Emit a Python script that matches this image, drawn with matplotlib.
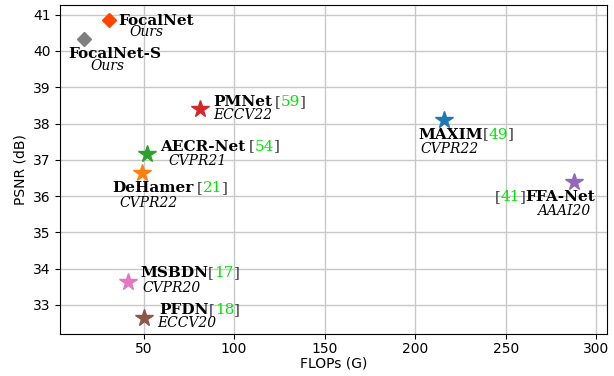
import matplotlib.pyplot as plt


# model data
names = ['FocalNet', 'FocalNet-S', 'PMNet', 'AECR-Net', 'DeHamer',
         'MAXIM', 'FFA-Net', 'MSBDN', 'PFDN']
refs = ['', '', '59', '54', '21', '49', '41', '17', '18']
venues = ['Ours', 'Ours', 'ECCV22', 'CVPR21', 'CVPR22',
          'CVPR22', 'AAAI20', 'CVPR20', 'ECCV20']
flops = [30.7, 17.4, 81.1, 52.2, 48.9, 216.0, 287.8, 41.5, 50.5]
psnr = [40.84, 40.33, 38.41, 37.17, 36.63, 38.11, 36.39, 33.64, 32.63]

colors = ['#ff4500', 'tab:gray', 'tab:red', 'tab:green', 'tab:orange',
          'tab:blue', 'tab:purple', 'tab:pink', 'tab:brown']
markers = ['D', 'D', '*', '*', '*', '*', '*', '*', '*']

# label offsets in pixels from marker: (title dx, dy, venue dx, dy, side, gap)
offsets = [
    (10, -5, 21, -16, 'left', 0),
    (-16, -19, 6, -31, 'left', 0),
    (13, 3, 13, -10, 'left', 3),
    (13, 3, 21, -11, 'left', 3),
    (-29, -19, -22, -34, 'left', 3),
    (-26, -19, -24, -33, 'left', 0),
    (21, -19, 16, -33, 'right', 0),
    (12, 5, 14, -10, 'left', 0),
    (15, 4, 13, -9, 'left', 0),
]

GREEN = '#00e600'
BRACKET = '#333333'

fig = plt.figure(figsize=(6.14, 3.76), dpi=100)
ax = fig.add_axes([0.098, 0.112, 0.891, 0.875])

for i in range(len(names)):
    ms = 7 if markers[i] == 'D' else 13
    ax.plot(flops[i], psnr[i], marker=markers[i], color=colors[i],
            markersize=ms, linestyle='none', zorder=3)

    tdx, tdy, vdx, vdy, side, gap = offsets[i]
    kw = dict(xy=(flops[i], psnr[i]), textcoords='offset pixels',
              va='baseline', family='DejaVu Serif', annotation_clip=False)
    title = ax.annotate(names[i], xytext=(tdx, tdy), ha=side,
                        fontsize=11, fontweight='bold', **kw)
    ax.annotate(venues[i], xytext=(vdx, vdy), ha=side, fontsize=10,
                style='italic', **kw)

    if refs[i]:
        pieces = [('[', BRACKET), (refs[i], GREEN), (']', BRACKET)]
        if side == 'right':
            prev = title
            for txt, col in pieces[::-1]:
                prev = ax.annotate(txt, xy=(0, 0), xycoords=prev,
                                   ha='right', va='bottom', fontsize=11,
                                   color=col, family='DejaVu Serif')
        else:
            prev = title
            for j, (txt, col) in enumerate(pieces):
                prev = ax.annotate(txt, xy=(1, 0), xycoords=prev,
                                   xytext=(gap if j == 0 else 0, 0),
                                   textcoords='offset pixels',
                                   ha='left', va='bottom', fontsize=11,
                                   color=col, family='DejaVu Serif')

ax.set_xlim(4, 306)
ax.set_ylim(32.2, 41.27)
ax.set_xticks([50, 100, 150, 200, 250, 300])
ax.set_yticks([33, 34, 35, 36, 37, 38, 39, 40, 41])
ax.tick_params(axis='x', pad=2)
ax.grid(True, color='#c8c8c8', linewidth=1)
ax.set_axisbelow(True)
ax.set_xlabel('FLOPs (G)', labelpad=1)
ax.set_ylabel('PSNR (dB)')

fig.savefig('out.png', dpi=100)
